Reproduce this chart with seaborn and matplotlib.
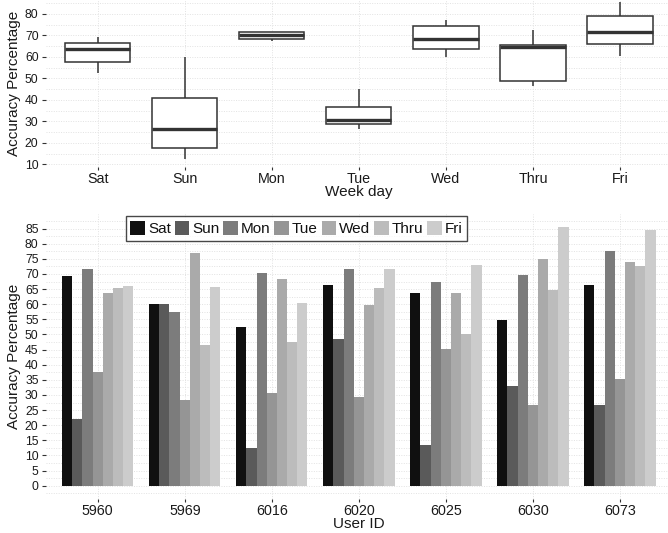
import matplotlib
matplotlib.use("Agg")
import matplotlib.pyplot as plt
from matplotlib.ticker import FixedLocator
import numpy as np
import pandas as pd
import seaborn as sns

# Accuracy per user (rows follow user_ids) for each week day
user_ids = ["5960", "5969", "6016", "6020", "6025", "6030", "6073"]
days = ["Sat", "Sun", "Mon", "Tue", "Wed", "Thru", "Fri"]
sat = [69.3, 60.0, 52.5, 66.4, 63.7, 54.8, 66.4]
sun = [22.0, 60.0, 12.5, 48.5, 13.5, 33.0, 26.6]
mon = [71.6, 57.4, 70.3, 71.6, 67.3, 69.7, 77.6]
tue = [37.6, 28.3, 30.6, 29.3, 45.2, 26.6, 35.3]
wed = [63.7, 77.1, 68.3, 59.7, 63.7, 74.9, 73.9]
thru = [65.4, 46.5, 47.5, 65.4, 50.2, 64.6, 72.6]
fri = [66.0, 65.7, 60.4, 71.6, 72.9, 85.5, 84.6]

greys = ["#101010", "#5a5a5a", "#7c7c7c", "#959595", "#aaaaaa", "#bcbcbc", "#cccccc"]

top_yticks = [10, 20, 30, 40, 50, 60, 70, 80]
bot_yticks = list(range(0, 90, 5))

series = [sat, sun, mon, tue, wed, thru, fri]
df = pd.DataFrame({
    "user": np.tile(user_ids, len(days)),
    "day": np.repeat(days, len(user_ids)),
    "acc": np.concatenate(series),
})

sns.set_theme(style="white")
plt.rcParams["font.family"] = ["Liberation Sans", "DejaVu Sans"]

fig = plt.figure(figsize=(6.68, 5.33), dpi=100)
W, H = 668.0, 533.0

grid_kw = dict(color="#e2e2e2", linestyle=(0, (1, 1.5)), linewidth=0.7)


def style_axes(ax, ymin, ymax, major, minor, xfont):
    for s in ax.spines.values():
        s.set_visible(False)
    ax.set_xlim(-0.6, 6.6)
    ax.set_ylim(ymin, ymax)
    ax.yaxis.set_major_locator(FixedLocator(major))
    ax.yaxis.set_minor_locator(FixedLocator(minor))
    ax.set_axisbelow(True)
    ax.yaxis.grid(True, which="both", **grid_kw)
    ax.xaxis.grid(True, which="major", **grid_kw)
    ax.tick_params(axis="y", which="major", length=3, width=0.8, color="#333333",
                   labelsize=8.7, labelcolor="#1a1a1a", pad=2, left=True)
    ax.tick_params(axis="x", which="major", length=2.5, width=0.8, color="#333333",
                   labelsize=xfont, labelcolor="#1a1a1a", pad=1.5, bottom=True)
    ax.tick_params(which="minor", length=0)


# Box plot of accuracy by week day
ax1 = fig.add_axes([45.5 / W, (H - 166.8) / H, 626.7 / W, 166.8 / H])
sns.boxplot(data=df, x="day", y="acc", order=days, color="white",
            linecolor="#333333", linewidth=1.1, width=0.75,
            showfliers=False, showcaps=False,
            medianprops={"linewidth": 2.4, "color": "#333333"}, ax=ax1)
style_axes(ax1, 8.85, 86.4, top_yticks, [15, 25, 35, 45, 55, 65, 75, 85], 10.3)
ax1.set_xlabel("Week day", fontsize=11, labelpad=-1, color="#1a1a1a")
ax1.set_ylabel("Accuracy Percentage", fontsize=11, labelpad=3, color="#1a1a1a")

# Grouped bars of accuracy by user and week day
ax2 = fig.add_axes([45.5 / W, (H - 498.6) / H, 626.7 / W, 284.4 / H])
sns.barplot(data=df, x="user", y="acc", hue="day", order=user_ids, hue_order=days,
            palette=greys, width=0.82, errorbar=None, saturation=1,
            linewidth=0, ax=ax2)
style_axes(ax2, -4.275, 89.775, bot_yticks, [-2.5] + [v + 2.5 for v in bot_yticks], 10.3)
ax2.set_xlabel("User ID", fontsize=11, labelpad=-1, color="#1a1a1a")
ax2.set_ylabel("Accuracy Percentage", fontsize=11, labelpad=3, color="#1a1a1a")

handles, labels = ax2.get_legend_handles_labels()
ax2.get_legend().remove()
leg = fig.legend(handles, labels, ncol=7, loc="center",
                 bbox_to_anchor=(296.5 / W, 1 - 228.5 / H),
                 fontsize=11, frameon=True, fancybox=False,
                 handlelength=0.95, handleheight=1.0, handletextpad=0.2,
                 columnspacing=0.25, borderpad=0.3, borderaxespad=0)
leg.get_frame().set_edgecolor("#1a1a1a")
leg.get_frame().set_linewidth(1.0)
leg.get_frame().set_facecolor("white")
for t in leg.get_texts():
    t.set_color("#111111")

fig.savefig("out.png", dpi=100)
